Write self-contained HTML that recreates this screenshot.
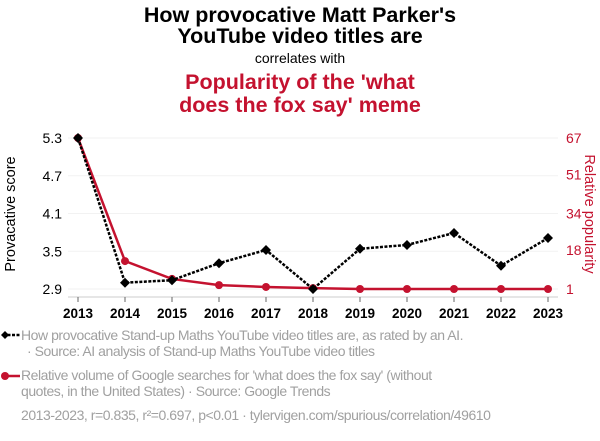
<!DOCTYPE html>
<html><head><meta charset="utf-8"><style>
body{margin:0;width:600px;height:436px;background:#fff;font-family:"Liberation Sans",sans-serif;overflow:hidden}
svg text{font-family:"Liberation Sans",sans-serif}
</style></head><body>
<svg id="c" width="600" height="436" xmlns="http://www.w3.org/2000/svg">
<text x="300" y="22" text-anchor="middle" font-size="21.5" font-weight="bold" fill="#000">How provocative Matt Parker's</text>
<text x="300" y="43" text-anchor="middle" font-size="21.5" font-weight="bold" fill="#000">YouTube video titles are</text>
<text x="300" y="63" text-anchor="middle" font-size="14" fill="#000">correlates with</text>
<text x="300" y="89" text-anchor="middle" font-size="21.5" font-weight="bold" fill="#c4122f">Popularity of the 'what</text>
<text x="300" y="112" text-anchor="middle" font-size="21.5" font-weight="bold" fill="#c4122f">does the fox say' meme</text>
<text transform="translate(15,214) rotate(-90)" text-anchor="middle" font-size="14.5" fill="#000">Provacative score</text>
<text transform="translate(585,214) rotate(90)" text-anchor="middle" font-size="14.5" fill="#c4122f">Relative popularity</text>
<g id="grid"></g><g id="axes"></g><g id="marks"></g>
<g font-size="14" fill="#a0a0a0" letter-spacing="-0.45">
<line x1="3" y1="335" x2="20" y2="335" stroke="#000" stroke-width="2.5" stroke-dasharray="3,1.5"/>
<path d="M1,335 L5,331 L9,335 L5,339Z" fill="#000"/>
<text x="21" y="340">How provocative Stand-up Maths YouTube video titles are, as rated by an AI.</text>
<text x="27" y="356">· Source: AI analysis of Stand-up Maths YouTube video titles</text>
<line x1="3" y1="376" x2="20" y2="376" stroke="#c4122f" stroke-width="2.5"/>
<circle cx="5" cy="376" r="4" fill="#c4122f"/>
<text x="21" y="380">Relative volume of Google searches for 'what does the fox say' (without</text>
<text x="21" y="396">quotes, in the United States) · Source: Google Trends</text>
<text x="21" y="420">2013-2023, r=0.835, r²=0.697, p&lt;0.01 · tylervigen.com/spurious/correlation/49610</text>
</g>
</svg>
<script>
const years=[2013,2014,2015,2016,2017,2018,2019,2020,2021,2022,2023];
const provocative=[5.3,3.0,3.04,3.31,3.52,2.9,3.54,3.6,3.79,3.27,3.71];
const popularity=[67,13.2,5.4,2.7,1.9,1.4,1,1,1,1,1];
const leftTicks=[2.9,3.5,4.1,4.7,5.3];
const rightTicks=[1,18,34,51,67];
const NS="http://www.w3.org/2000/svg";
const X0=78,X1=548,Y0=289,Y1=138;
const xs=y=>X0+(y-years[0])/(years[years.length-1]-years[0])*(X1-X0);
const yl=v=>Y0-(v-2.9)/(5.3-2.9)*(Y0-Y1);
const yr=v=>Y0-(v-1)/(67-1)*(Y0-Y1);
function mk(t,a,p){const e=document.createElementNS(NS,t);for(const k in a)e.setAttribute(k,a[k]);p.appendChild(e);return e;}
const grid=document.getElementById('grid'),axes=document.getElementById('axes'),marks=document.getElementById('marks');
leftTicks.forEach((v,i)=>{
 const g=mk('line',{x1:68,x2:558,y1:yl(v),y2:yl(v),stroke:'#f2f2f2','stroke-width':1},grid);
 
 
 const t=mk('text',{x:62,y:yl(v)+5,'text-anchor':'end','font-size':14,fill:'#000'},axes);t.textContent=v.toFixed(1);
 
 
});
rightTicks.forEach(v=>{
 const t=mk('text',{x:566,y:yr(v)+5,'font-size':14,fill:'#c4122f'},axes);t.textContent=v;
 
 
});
mk('line',{x1:68,x2:558,y1:297,y2:297,stroke:'#ccc'},axes);
years.forEach(y=>{
 mk('line',{x1:xs(y),x2:xs(y),y1:297,y2:302,stroke:'#666'},axes);
 const t=mk('text',{x:xs(y),y:318,'text-anchor':'middle','font-size':13.5,'font-weight':'bold',fill:'#000'},axes);t.textContent=y;
 
 
});
const rp=mk('polyline',{points:years.map((y,i)=>xs(y)+','+yr(popularity[i])).join(' '),fill:'none',stroke:'#c4122f','stroke-width':2.5},marks);


years.forEach((y,i)=>{const c=mk('circle',{cx:xs(y),cy:yr(popularity[i]),r:4,fill:'#c4122f'},marks);
 
 });
const bp=mk('polyline',{points:years.map((y,i)=>xs(y)+','+yl(provocative[i])).join(' '),fill:'none',stroke:'#000','stroke-width':2.5,'stroke-dasharray':'3,1.5'},marks);


years.forEach((y,i)=>{const x=xs(y),yy=yl(provocative[i]);
 const d=mk('path',{d:`M${x-5},${yy} L${x},${yy-5} L${x+5},${yy} L${x},${yy+5}Z`,fill:'#000'},marks);
 
 });
</script>
</body></html>
